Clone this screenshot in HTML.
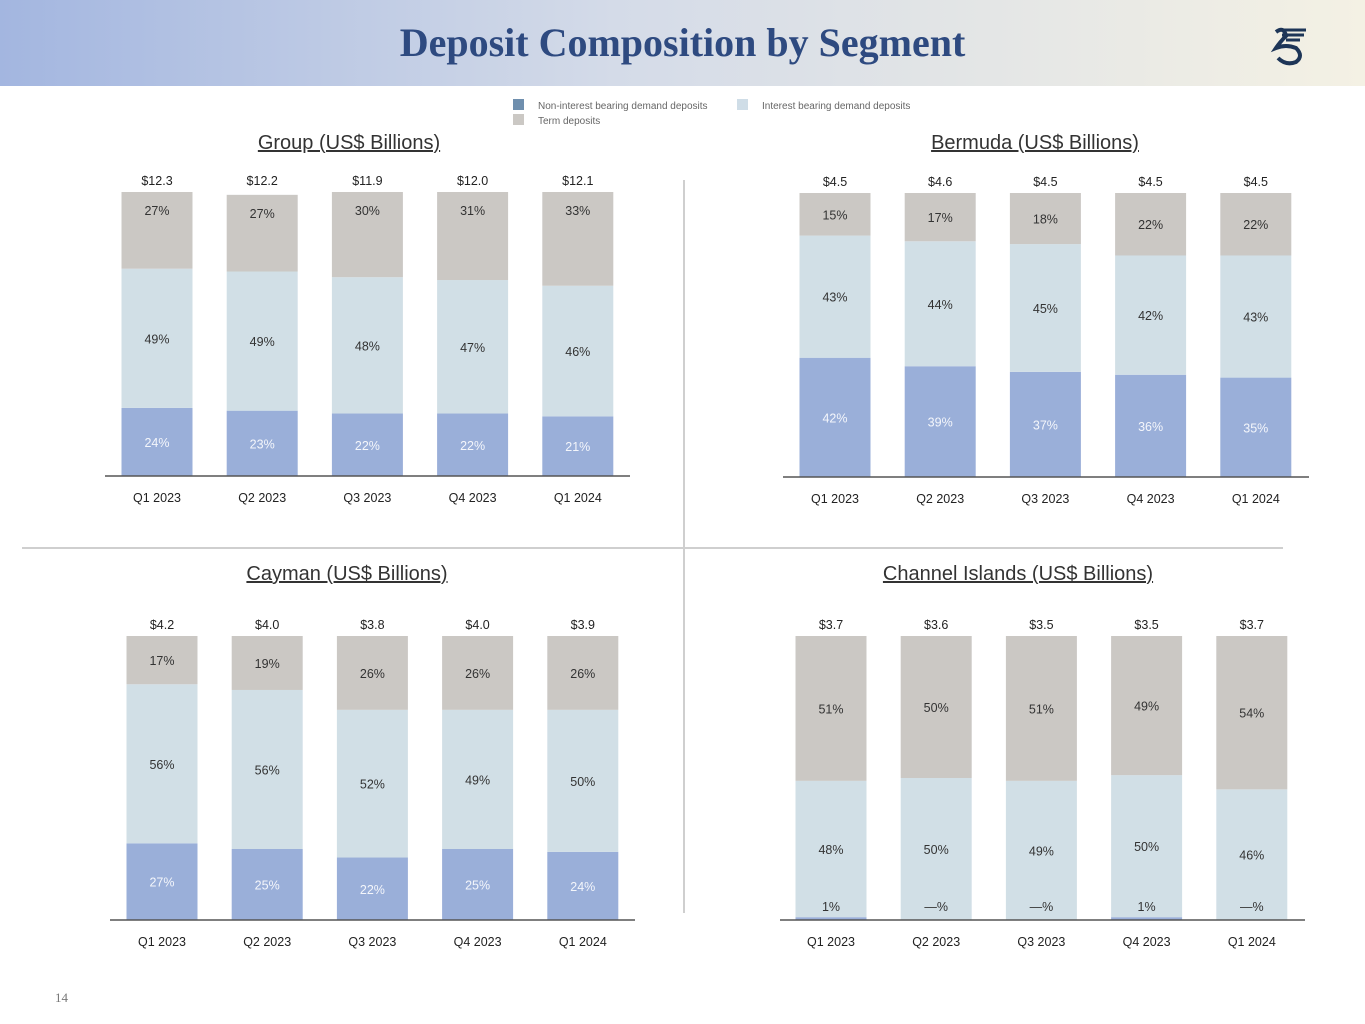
<!DOCTYPE html>
<html><head><meta charset="utf-8"><style>
body{margin:0;width:1365px;height:1024px;background:#fff;font-family:"Liberation Sans",sans-serif;overflow:hidden;position:relative}
#hdr{position:absolute;left:0;top:0;width:1365px;height:86px;background:linear-gradient(90deg,#a3b6e0 0%,#d4dbe8 45%,#f4f1e4 100%)}
#title{position:absolute;left:0;width:1365px;top:20px;text-align:center;font-family:"Liberation Serif",serif;font-weight:bold;font-size:40px;line-height:46px;color:#2e4a80}
</style></head><body>
<div id="hdr"></div>
<div id="title">Deposit Composition by Segment</div>
<svg style="position:absolute;left:1266px;top:22px" width="48" height="46" viewBox="0 0 48 46">
<path d="M14 8 L40 8 M16 13 L38 13 M20 18 L34 18" stroke="#1d3557" stroke-width="3" fill="none"/>
<path d="M10 10 Q18 4 20 14 Q14 20 10 26 Q20 22 30 26 Q38 34 30 40 Q20 44 12 36" stroke="#1d3557" stroke-width="4" fill="none"/>
</svg>
<svg id="c" width="1365" height="1024" style="position:absolute;left:0;top:0"></svg>
<div style="position:absolute;left:55px;top:990px;font-family:'Liberation Serif',serif;font-size:13px;color:#777">14</div>
<script>
const categories=["Q1 2023","Q2 2023","Q3 2023","Q4 2023","Q1 2024"];
const groupTotals=["$12.3","$12.2","$11.9","$12.0","$12.1"];
const groupNib=[24,23,22,22,21];
const groupIb=[49,49,48,47,46];
const groupTerm=[27,27,30,31,33];
const bermudaTotals=["$4.5","$4.6","$4.5","$4.5","$4.5"];
const bermudaNib=[42,39,37,36,35];
const bermudaIb=[43,44,45,42,43];
const bermudaTerm=[15,17,18,22,22];
const caymanTotals=["$4.2","$4.0","$3.8","$4.0","$3.9"];
const caymanNib=[27,25,22,25,24];
const caymanIb=[56,56,52,49,50];
const caymanTerm=[17,19,26,26,26];
const ciTotals=["$3.7","$3.6","$3.5","$3.5","$3.7"];
const ciNib=[1,0,0,1,0];
const ciIb=[48,50,49,50,46];
const ciTerm=[51,50,51,49,54];
const NS="http://www.w3.org/2000/svg";
const svg=document.getElementById('c');
function mk(t,a,p){const e=document.createElementNS(NS,t);for(const k in a)e.setAttribute(k,a[k]);(p||svg).appendChild(e);return e;}
function txt(x,y,s,size,fill,anchor){const e=mk('text',{x:x,y:y,'font-size':size,fill:fill,'text-anchor':anchor||'middle'});e.textContent=s;return e;}
let d=mk('line',{x1:684,y1:180,x2:684,y2:913,stroke:'#cfcfcf','stroke-width':2});


d=mk('line',{x1:22,y1:548,x2:1283,y2:548,stroke:'#cfcfcf','stroke-width':2});


const leg=[[513,99,'#6f8fae','Non-interest bearing demand deposits'],[737,99,'#cfdde7','Interest bearing demand deposits'],[513,114,'#cbc8c4','Term deposits']];
leg.forEach(l=>{const g=mk('g',{});


mk('rect',{x:l[0],y:l[1],width:11,height:11,fill:l[2]},g);
const t=mk('text',{x:l[0]+25,y:l[1]+10,'font-size':10,fill:'#666'},g);t.textContent=l[3];});
function panel(name,title,tx,ty,x0,x1,cx0,base,top,totals,nib,ib,term,termTop){
const g=mk('g',{});


const t=txt(tx,ty,title,20,'#333');t.setAttribute('text-decoration','underline');g.appendChild(t);
const H=base-top,bw=71,step=105.2;
const y=v=>H*v/100;
const labels=[];
categories.forEach((c,i)=>{
const cx=cx0+i*step;let yb=base;
const segs=[[nib[i],'#9aafd9','#f4f6fb'],[ib[i],'#d1dfe6','#333'],[term[i],'#cbc8c4','#333']];
segs.forEach((s,k)=>{const h=y(s[0]);
const r=mk('rect',{x:cx-bw/2,y:yb-h,width:bw,height:h,fill:s[1]},g);


let ly=yb-h/2+5;
if(k==2&&termTop) ly=yb-h+23;
let lab=s[0]+'%',col=s[2];
if(k==0&&h<20){ly=base-9;col='#333';if(s[0]===0)lab='—%';}
labels.push([cx,ly,lab,col]);
yb-=h;});
labels.push([cx,top-7,totals[i],'#222']);
labels.push([cx,base+26,c,'#222']);
});
labels.forEach(l=>g.appendChild(txt(l[0],l[1],l[2],12.5,l[3])));
const ax=mk('line',{x1:x0,y1:base,x2:x1,y2:base,stroke:'#555','stroke-width':1.5},g);


}
panel('group','Group (US$ Billions)',349,149,105,630,157,476,192,groupTotals,groupNib,groupIb,groupTerm,true);
panel('bermuda','Bermuda (US$ Billions)',1035,149,783,1309,835,477,193,bermudaTotals,bermudaNib,bermudaIb,bermudaTerm,false);
panel('cayman','Cayman (US$ Billions)',347,580,110,635,162,920,636,caymanTotals,caymanNib,caymanIb,caymanTerm,false);
panel('channel-islands','Channel Islands (US$ Billions)',1018,580,780,1305,831,920,636,ciTotals,ciNib,ciIb,ciTerm,false);
</script>
</body></html>
